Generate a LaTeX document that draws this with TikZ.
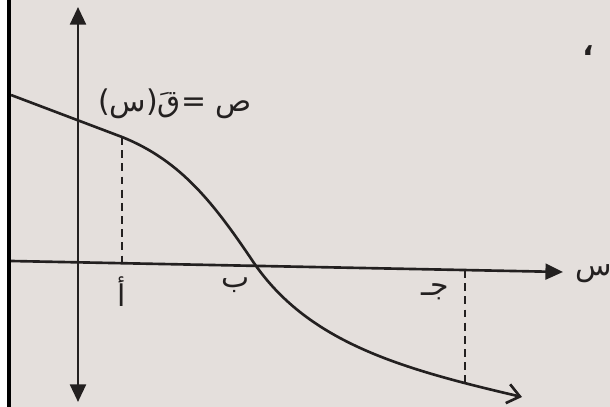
\documentclass[tikz,border=0pt]{standalone}
\usepackage{fontspec}
\usetikzlibrary{arrows.meta,positioning,calc}
\newfontfamily\arabicfont[Script=Arabic]{DejaVu Sans}
\TeXXeTstate=1
\definecolor{paper}{RGB}{228,223,220}
\definecolor{ink}{RGB}{35,32,32}
\newcommand{\ar}[1]{{\arabicfont\beginR #1\endR}}

\begin{document}
\begin{tikzpicture}[
  font=\fontsize{17}{20}\selectfont,
  >={Triangle[length=10pt,width=9pt]},
  ax/.style={draw=ink, line width=1.5pt},
  cv/.style={draw=ink, line width=1.5pt, -{Straight Barb[length=7pt,width=11pt]}},
  dsh/.style={draw=ink, line width=1.5pt, dash pattern=on 4.5pt off 3pt},
  lbl/.style={inner sep=1pt, text=ink}]

% ===== frame =====
\useasboundingbox (0,0) rectangle (12.2,8.14);
\clip (0,0) rectangle (12.2,8.14);
\fill[paper] (0,0) rectangle (12.2,8.14);

% ===== axes =====
\coordinate (yb) at (1.56,0.10);
\coordinate (yt) at (1.56,8.00);
\coordinate (xl) at (0.22,2.92);
\coordinate (xr) at (11.26,2.70);
\draw[ax, <->] (yb) -- (yt);
\draw[ax, ->] (xl) -- (xr);
\node[lbl, anchor=west] (xs) at (11.46,2.66) {\ar{س}};

% ===== curve =====
\coordinate (c0) at (0.22,6.24);
\coordinate (c2) at (2.44,5.40);
\coordinate (c5) at (5.10,2.85);
\coordinate (c8) at (9.30,0.48);
\coordinate (c9) at (10.44,0.20);
\draw[cv] (c0) -- (c2)
  .. controls (3.64,4.92) and (4.30,4.04) .. (c5)
  .. controls (6.20,1.28) and (8.04,0.76) .. (c9);
\node[lbl] (eq) at (3.50,6.06) {\ar{ص =قَ(س)}};

% ===== marks =====
\coordinate (pa0) at (2.44,2.88);
\coordinate (pc0) at (9.30,2.74);
\draw[dsh] (c2) -- (pa0);
\draw[dsh] (pc0) -- (c8);
\node[lbl] (ptA) at (2.44,2.30) {\ar{أ}};
\node[lbl] (ptB) at (4.72,2.44) {\ar{ب}};
\node[lbl] (ptC) at (8.70,2.30) {\ar{جـ}};
\node[lbl, font=\bfseries\fontsize{17}{20}\selectfont] (cm) at (11.76,7.12) {\ar{،}};

% ===== border =====
\fill[white] (0,0) rectangle (0.14,8.14);
\fill[black] (0.14,0) rectangle (0.22,8.14);

\end{tikzpicture}
\end{document}
